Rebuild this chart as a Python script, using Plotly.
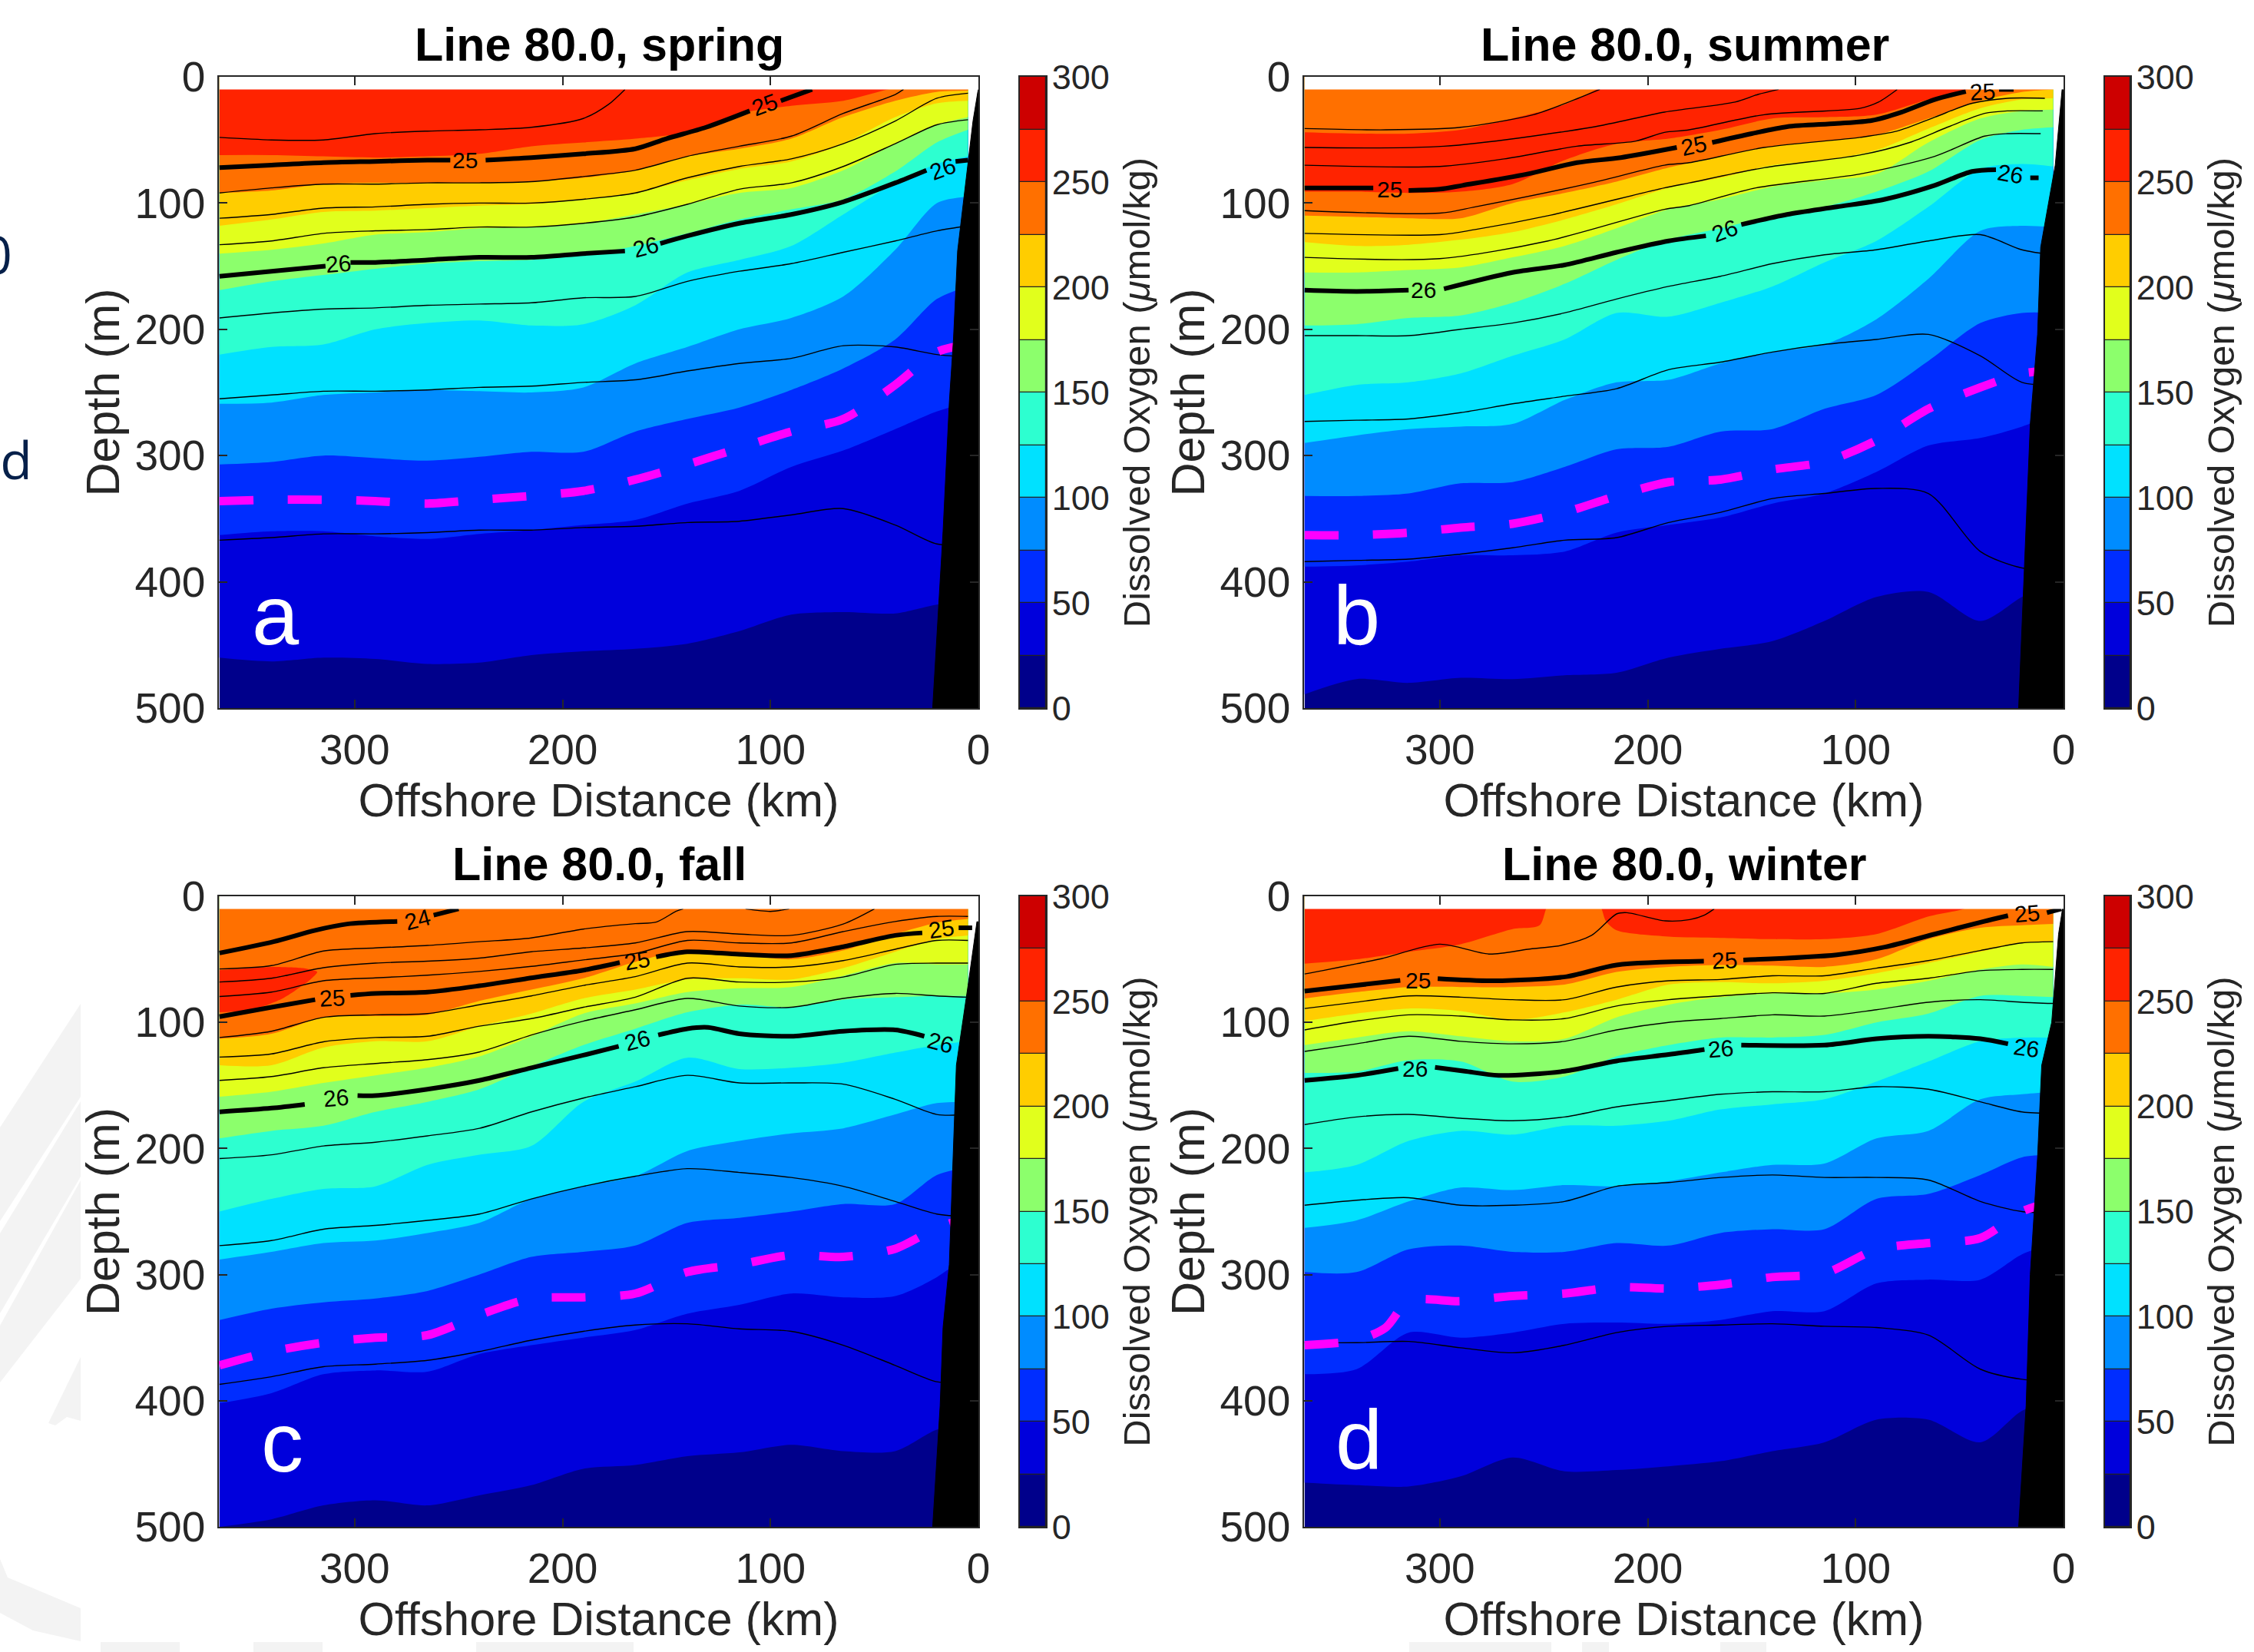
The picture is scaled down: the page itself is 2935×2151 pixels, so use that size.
import plotly.graph_objects as go

W, H = 2935, 2151

# ---- common station positions (km offshore) ----
km = [365, 340, 315, 290, 265, 240, 215, 190, 165, 140, 115, 90, 65, 40, 20, 5]
o2_levels = [0, 25, 50, 75, 100, 125, 150, 175, 200, 225, 250, 275, 300]
o2_colors = ["#00008b", "#0000dc", "#002dff", "#008cff", "#00e1ff", "#2dffd0",
             "#8cff6c", "#e1ff1c", "#ffcd00", "#ff7000", "#ff2300", "#cd0000"]
x_ticks = [300, 200, 100, 0]
y_ticks = [0, 100, 200, 300, 400, 500]
cb_ticks = [0, 50, 100, 150, 200, 250, 300]
titles = ["Line 80.0, spring", "Line 80.0, summer", "Line 80.0, fall", "Line 80.0, winter"]
letters = ["a", "b", "c", "d"]

# ---- SPRING: oxygen contour depths (m) ----
a_o2_25 = [460, 463, 460, 461, 465, 464, 458, 455, 453, 449, 439, 426, 424, 425, 418, 416]
a_o2_50 = [363, 360, 360, 364, 366, 362, 359, 355, 351, 338, 328, 309, 296, 279, 265, 258]
a_o2_75 = [307, 305, 300, 302, 304, 301, 297, 297, 281, 271, 262, 248, 231, 208, 176, 166]
a_o2_100 = [259, 258, 252, 250, 248, 249, 250, 246, 227, 214, 200, 191, 174, 137, 100, 95]
a_o2_125 = [220, 214, 212, 200, 195, 193, 197, 196, 181, 155, 145, 134, 109, 84, 69, 63]
a_o2_150 = [169, 162, 157, 152, 148, 146, 145, 141, 134, 124, 113, 105, 97, 75, 52, 42]
a_o2_175 = [140, 137, 132, 125, 123, 120, 119, 116, 109, 101, 92, 88, 74, 53, 38, 32]
a_o2_200 = [118, 113, 107, 106, 104, 102, 101, 97, 92, 82, 73, 67, 53, 32, 21, 19]
a_o2_225 = [92, 90, 85, 84, 84, 84, 83, 80, 74, 63, 57, 49, 32, 19, 12, 11]
a_o2_250 = [62, 62, 63, 64, 63, 61, 55, 52, 49, 44, 29, 23, 19, 9, 8, 8]

# SPRING: density contours
a_t1_x = [365, 340, 315, 290, 265, 240, 215, 190, 178, 170]
a_t1_y = [48, 50, 50, 45, 43, 42, 40, 33, 22, 10]
a_t2_x = [365, 340, 315, 290, 265, 240, 215, 190, 165, 140, 115, 90, 65, 40, 36]
a_t2_y = [92, 88, 85, 85, 84, 84, 83, 79, 74, 63, 55, 47, 29, 14, 10]
a_t3 = [112, 109, 104, 103, 101, 100, 100, 97, 92, 80, 71, 65, 53, 35, 17, 13]
a_t4 = [133, 130, 124, 122, 121, 119, 119, 116, 111, 101, 89, 84, 71, 53, 38, 34]
a_t5 = [191, 187, 184, 183, 181, 180, 179, 175, 174, 162, 154, 148, 139, 130, 122, 118]
a_t6 = [255, 252, 249, 249, 248, 246, 245, 242, 240, 233, 227, 223, 213, 214, 220, 222]
a_t7 = [367, 365, 362, 362, 361, 359, 359, 357, 356, 353, 352, 347, 342, 355, 370, 370]
a_s25_x = [365, 340, 315, 290, 265, 254, None, 237, 215, 190, 165, 150, 131, 110, None, 95, 80]
a_s25_y = [72, 70, 68, 67, 66, 66, None, 66, 64, 61, 57, 49, 40, 27, None, 19, 10]
a_s26_x = [365, 340, 314, None, 302, 290, 265, 240, 215, 190, 170, None, 153, 140, 115, 90, 65, 40, 25, None, 11, 5]
a_s26_y = [158, 154, 150, None, 147, 147, 145, 143, 143, 140, 138, None, 132, 126, 116, 109, 99, 84, 74, None, 67, 66]
a_dash = [336, 335, 335, 336, 338, 335, 332, 328, 319, 307, 294, 281, 271, 244, 218, 212]
a_coast_x = [0, 0.3, 2.6, 6, 10, 12, 14, 17, 22]
a_coast_y = [10, 12, 35, 81, 138, 208, 258, 360, 500]
a_lab_x = [247, 103, 308, 160, 17]
a_lab_y = [66, 22, 148, 134.5, 72.7]
a_lab_t = ["25", "25", "26", "26", "26"]
a_lab_a = [0, -20, -5, -15, -20]

# ---- SUMMER ----
b_o2_25 = [489, 477, 480, 476, 477, 474, 472, 460, 453, 447, 431, 412, 408, 431, 412, 401]
b_o2_50 = [388, 387, 384, 379, 379, 376, 361, 355, 349, 338, 330, 313, 292, 286, 277, 267]
b_o2_75 = [332, 332, 330, 322, 321, 309, 295, 293, 281, 279, 263, 252, 225, 195, 187, 187]
b_o2_100 = [290, 284, 279, 277, 275, 256, 242, 240, 227, 218, 212, 192, 160, 122, 118, 119]
b_o2_125 = [252, 244, 242, 235, 221, 208, 187, 190, 179, 166, 147, 130, 103, 73, 69, 71]
b_o2_150 = [197, 196, 191, 189, 179, 164, 145, 129, 120, 110, 103, 91, 75, 50, 42, 40]
b_o2_175 = [155, 155, 153, 151, 143, 134, 120, 105, 97, 87, 82, 77, 52, 33, 27, 26]
b_o2_200 = [131, 134, 133, 129, 123, 113, 101, 88, 80, 70, 66, 58, 41, 25, 18, 17]
b_o2_225 = [110, 111, 112, 112, 100, 92, 83, 72, 63, 55, 51, 46, 33, 19, 12, 10]
b_o2_250 = [91, 91, 92, 91, 85, 66, 53, 49, 42, 33, 32, 30, 18, 8, 8, 8]
b_o2_250top = [44, 45, 45, 42, 33, 22, 4, 4, 4, 4, 4, 4, 4, 4, 4, 4]

b_t1_x = [365, 326, 290, 255, 238, 223]
b_t1_y = [41, 42, 40, 30, 20, 10]
b_t2_x = [365, 298, 227, 192, 158, 147, 137]
b_t2_y = [56, 55, 40, 28, 20, 14, 10]
b_t3_x = [365, 300, 269, 234, 206, 192, 180, 144, 98, 89, 80]
b_t3_y = [70, 71, 65, 55, 51, 44, 42, 30, 25, 20, 10]
b_t4_x = [365, 300, 283, 227, 192, 180, 144, 98, 80, 62, 44, 27, 9]
b_t4_y = [106, 108, 103, 84, 70, 68, 56, 48, 43, 32, 21, 17, 17]
b_t5_x = [365, 300, 283, 248, 192, 180, 144, 98, 74, 56, 38, 27, 10]
b_t5_y = [124, 125, 121, 110, 88, 84, 72, 62, 52, 40, 29, 27, 27]
b_t6_x = [365, 300, 248, 192, 180, 148, 98, 62, 38, 27, 11]
b_t6_y = [143, 144, 130, 105, 102, 88, 77, 63, 47, 45, 45]
b_t7 = [205, 205, 205, 200, 195, 187, 176, 166, 158, 148, 141, 137, 130, 125, 137, 141]
b_t8 = [273, 272, 271, 266, 259, 253, 247, 232, 226, 218, 212, 208, 204, 221, 242, 244]
b_t9 = [384, 383, 382, 378, 373, 367, 365, 353, 345, 334, 330, 326, 330, 376, 389, 390]
b_s25_x = [365, 340, 332, None, 315, 300, 289, 258, 234, 213, 186, None, 169, 150, 133, 109, 92, 78, 62, 47, None, 31, 24]
b_s25_y = [88, 88, 88, None, 90, 89, 86, 77, 68, 64, 56, None, 52, 45, 39.5, 37, 34.5, 28, 18, 11.6, None, 10, 10]
b_s26_x = [365, 340, 315, None, 298, 265, 240, 215, 190, 172, None, 155, 133, 109, 86, 62, 44, 32.5, None, 16, 12]
b_s26_y = [169, 170, 169, None, 168, 155, 149, 139, 130, 126, None, 117, 109, 103, 97, 86, 75, 73.6, None, 80, 80]
b_dash = [363, 363, 361, 357, 354, 345, 332, 321, 319, 311, 305, 288, 263, 246, 235, 233]
b_coast_x = [0.7, 4, 11, 12.5, 16, 19, 21.6]
b_coast_y = [10, 70, 135, 204, 275, 400, 500]
b_lab_x = [324, 178, 39, 308, 163, 25.5]
b_lab_y = [89, 54.7, 11.6, 169, 121.7, 77]
b_lab_t = ["25", "25", "25", "26", "26", "26"]
b_lab_a = [0, -12, -3, 0, -20, 10]

# ---- FALL ----
c_o2_25 = [500, 494, 483, 479, 483, 475, 467, 454, 451, 444, 441, 435, 440, 440, 423, 419]
c_o2_50 = [402, 394, 379, 376, 377, 363, 356, 350, 344, 331, 324, 315, 318, 317, 302, 284]
c_o2_75 = [336, 327, 322, 319, 313, 300, 286, 282, 277, 259, 255, 250, 244, 244, 221, 215]
c_o2_100 = [288, 282, 275, 273, 267, 259, 240, 230, 222, 202, 194, 188, 184, 173, 164, 163]
c_o2_125 = [250, 240, 232, 230, 213, 205, 198, 163, 147, 128, 137, 136, 132, 124, 118, 115]
c_o2_150 = [192, 186, 182, 171, 163, 153, 135, 118, 105, 92, 86, 88, 82, 80, 79, 79]
c_o2_175 = [159, 155, 148, 142, 136, 127, 111, 93, 85, 76, 73, 72, 63, 53, 54, 54]
c_o2_200 = [134, 134, 120, 115, 115, 103, 93, 81, 74, 66, 65, 66, 57, 44, 34, 31]
c_o2_225 = [113, 109, 96, 95, 94, 83, 74, 65, 52, 43, 46, 50, 43, 30, 21, 18]
c_red_x = [365, 339, 325, 318, 322, 334.6, 349, 365]
c_red_y = [58.6, 56, 57, 60, 67, 81, 90, 92]

c_t1_x = [365, 340, 315, 290, 265, 240, 215, 190, 165, 155, 145.5, 142]
c_t1_y = [57.6, 55, 43.4, 41, 39, 36, 33, 26, 21.7, 20.5, 12, 10]
c_t1b_x = [112, 100, 91]
c_t1b_y = [10, 12, 10]
c_t2_x = [365, 340, 315, 290, 265, 240, 215, 190, 165, 140, 115, 90, 65, 50]
c_t2_y = [68, 65, 56.6, 53, 51.5, 49, 44, 41, 37, 28, 30, 31, 22, 10]
c_t3 = [79.5, 76, 67, 64.7, 62.6, 59.6, 55.6, 50.5, 45.4, 35, 37, 37, 28, 20, 16, 16]
c_t4 = [112, 107, 96, 94, 93, 86, 79, 70.7, 63.7, 53, 56, 56, 51, 42, 35, 35]
c_t5 = [127.5, 125, 115.4, 112, 111, 103, 97, 88, 80, 65, 68, 68, 64, 54, 53, 53]
c_t6 = [146, 143, 136, 132.6, 129.6, 123.5, 110, 99, 90, 81, 87, 88, 81, 77, 79, 80]
c_t7 = [208, 205, 198, 195, 190, 184, 171, 160, 151, 142, 148, 148, 149, 161, 173, 173]
c_t8 = [277, 273, 264, 261, 257, 252, 240, 230, 222, 216, 219, 223, 230, 242, 252, 254]
c_t9 = [387, 381, 373, 371, 368, 361, 352, 345, 340, 339, 343, 345, 356, 372, 385, 386]
c_s24_x = [365, 339, 319, 303.6, 279.5, None, 262, 250]
c_s24_y = [45, 36, 27, 22, 20, None, 15, 10]
c_s25_x = [365, 340, 319, None, 302, 290, 265, 240, 215, 190, 172.5, None, 155, 140, 115, 90, 65, 40, 27, None, 9.5, 3]
c_s25_y = [95.5, 88, 82, None, 78.5, 77, 76, 71, 64.7, 58.6, 52.5, None, 48, 44, 46, 47, 40, 31, 29, None, 25, 25]
c_s26_x = [365, 340, 324, None, 298.6, 290, 265, 240, 215, 190, 173, None, 154, 140, 130, 115, 90, 65, 40, 26]
c_s26_y = [171, 168, 165, None, 158, 158, 153, 146, 136, 126, 119, None, 110, 105, 104, 109, 111, 107, 106, 111]
c_dash = [372, 361, 354, 350, 348, 332, 319, 318, 315, 298, 292, 284.5, 286, 279.5, 263, 255]
c_coast_x = [0.7, 5, 10.6, 12, 14, 17, 18.4, 22]
c_coast_y = [20, 71, 134, 196, 292, 342, 404, 500]
c_lab_x = [270, 311, 164, 18, 309, 164, 18.4]
c_lab_y = [18.5, 80.6, 51, 25.8, 160, 114, 116]
c_lab_t = ["24", "25", "25", "25", "26", "26", "26"]
c_lab_a = [-15, -3, -10, -8, -5, -15, 15]

# ---- WINTER ----
d_o2_25 = [465, 467, 468, 460, 445, 456, 455, 452, 448, 440, 433, 415, 415, 433, 408, 400]
d_o2_50 = [379, 375, 346, 350, 346, 339, 338, 339, 336, 329, 329, 307, 304, 304, 284, 275]
d_o2_75 = [298, 298, 280, 277, 282, 282, 275, 277, 267, 264, 264, 240, 236, 221, 207, 205]
d_o2_100 = [263, 257, 242, 231, 233, 229, 230, 226, 219, 213, 212, 192, 186, 161, 157, 155]
d_o2_125 = [219, 213, 194, 186, 189, 182, 182, 178, 169, 165, 161, 147, 131, 115, 112, 112]
d_o2_150 = [140, 139, 130, 131, 147, 143, 127, 118, 112, 112, 110, 100, 93, 79, 79, 80]
d_o2_175 = [118, 112, 107, 111, 115, 113, 96, 86, 80, 77, 77, 74, 67, 58, 54, 56]
d_o2_200 = [99, 93, 89, 91, 98, 92, 82, 70, 68, 69, 67, 61, 53, 44, 37, 36]
d_o2_225 = [81, 76, 72, 72, 72, 70, 60, 56, 54.5, 55, 56, 50, 34, 25, 23, 22]
d_o2_250_x = [365, 340, 315, 290, 265, 252, 247, 224, 220, 215, 190, 165, 140, 115, 90, 65, 48, 40, 5]
d_o2_250_y = [53.5, 50, 44, 38, 26, 23, 5, 5, 20, 27, 32, 33, 34, 34, 30, 16, 10, 4, 4]

d_t1_x = [365, 356.5, 340, 328, 300, 276.4, 257.6, 241, 227, 215, 210, 191.6, 179.8, 172.8, 168]
d_t1_y = [61.6, 59, 53.5, 49.5, 38, 45.8, 42, 38.7, 31, 14, 13, 19.5, 18.5, 15, 10]
d_t2 = [89, 84, 79, 80, 82, 82, 72, 67, 66, 63, 63, 57, 51, 43, 37, 36]
d_t3 = [106, 99, 94, 95, 98, 97, 87, 82, 79, 76.5, 77, 69, 65, 59, 58, 58]
d_t4 = [123, 117, 111, 115, 117, 115, 106, 100, 97, 94, 95, 90, 84, 82, 84, 85]
d_t5 = [181, 175, 173, 176, 178, 175, 167, 162, 157, 155, 155, 151, 153, 163, 171, 172]
d_t6 = [245, 241, 239, 245, 245, 242, 230, 227, 223, 221, 223, 223, 225, 242, 250, 251]
d_t7 = [354, 354, 353, 358, 362, 356, 346, 341, 340, 339, 341, 342, 348, 375, 383, 384]
d_s25_x = [365, 319, None, 301, 274, 239, 215, 173, None, 154, 109, 86, 62, 38.5, 26.7, None, 8, 1]
d_s25_y = [75.2, 66.7, None, 65.3, 67, 63.7, 54.5, 51.5, None, 50.5, 46.4, 40.3, 30, 20, 15.4, None, 13, 10]
d_s26_x = [365, 340, 320, None, 302.3, 288, 271.7, 240, 215, 190, 172.7, None, 155, 115, 90, 65, 40, 26.7]
d_s26_y = [146, 142, 136.6, None, 135.6, 138.7, 142, 138.7, 130.6, 125.5, 121.5, None, 118, 118, 113, 111, 113, 117]
d_dash_x = [365, 340, 326, 315, 290, 265, 240, 215, 190, 165, 140, 115, 90, 65, 40, 20, 5]
d_dash_y = [356, 352, 342, 321, 321, 317, 315, 310, 311, 308, 302, 299, 280, 275, 271, 250, 242]
d_coast_x = [0.5, 2.4, 5.7, 10.5, 12.5, 16, 18, 21.6]
d_coast_y = [10, 30, 100, 134, 207, 300, 404, 500]
d_lab_x = [310.6, 163, 17.7, 311.8, 165, 18]
d_lab_y = [66.7, 51, 14, 137, 121, 120]
d_lab_t = ["25", "25", "25", "26", "26", "26"]
d_lab_a = [0, -3, -5, 0, -5, 8]

# ---- assemble panels from the named arrays ----
panels = [
    dict(px=(285, 1274, 100, 922), cbx=(1328, 1362), lpos=(338, 426),
         bands=[(km, a_o2_25, 1), (km, a_o2_50, 2), (km, a_o2_75, 3), (km, a_o2_100, 4), (km, a_o2_125, 5),
                (km, a_o2_150, 6), (km, a_o2_175, 7), (km, a_o2_200, 8), (km, a_o2_225, 9), (km, a_o2_250, 10)],
         patches=[],
         thin=[(a_t1_x, a_t1_y), (a_t2_x, a_t2_y), (km, a_t3), (km, a_t4), (km, a_t5), (km, a_t6), (km, a_t7)],
         thick=[(a_s25_x, a_s25_y), (a_s26_x, a_s26_y)],
         dash=(km, a_dash), coast=(a_coast_x, a_coast_y),
         labs=(a_lab_x, a_lab_y, a_lab_t, a_lab_a)),
    dict(px=(1698, 2687, 100, 922), cbx=(2741, 2774), lpos=(340, 426),
         bands=[(km, b_o2_25, 1), (km, b_o2_50, 2), (km, b_o2_75, 3), (km, b_o2_100, 4), (km, b_o2_125, 5),
                (km, b_o2_150, 6), (km, b_o2_175, 7), (km, b_o2_200, 8), (km, b_o2_225, 9), (km, b_o2_250, 10),
                (km, b_o2_250top, 9)],
         patches=[],
         thin=[(b_t1_x, b_t1_y), (b_t2_x, b_t2_y), (b_t3_x, b_t3_y), (b_t4_x, b_t4_y), (b_t5_x, b_t5_y),
               (b_t6_x, b_t6_y), (km, b_t7), (km, b_t8), (km, b_t9)],
         thick=[(b_s25_x, b_s25_y), (b_s26_x, b_s26_y)],
         dash=(km, b_dash), coast=(b_coast_x, b_coast_y),
         labs=(b_lab_x, b_lab_y, b_lab_t, b_lab_a)),
    dict(px=(285, 1274, 1167, 1988), cbx=(1328, 1362), lpos=(335, 433),
         bands=[(km, c_o2_25, 1), (km, c_o2_50, 2), (km, c_o2_75, 3), (km, c_o2_100, 4), (km, c_o2_125, 5),
                (km, c_o2_150, 6), (km, c_o2_175, 7), (km, c_o2_200, 8), (km, c_o2_225, 9)],
         patches=[(c_red_x, c_red_y, 10)],
         thin=[(c_t1_x, c_t1_y), (c_t1b_x, c_t1b_y), (c_t2_x, c_t2_y), (km, c_t3), (km, c_t4), (km, c_t5),
               (km, c_t6), (km, c_t7), (km, c_t8), (km, c_t9)],
         thick=[(c_s24_x, c_s24_y), (c_s25_x, c_s25_y), (c_s26_x, c_s26_y)],
         dash=(km, c_dash), coast=(c_coast_x, c_coast_y),
         labs=(c_lab_x, c_lab_y, c_lab_t, c_lab_a)),
    dict(px=(1698, 2687, 1167, 1988), cbx=(2741, 2774), lpos=(339, 430),
         bands=[(km, d_o2_25, 1), (km, d_o2_50, 2), (km, d_o2_75, 3), (km, d_o2_100, 4), (km, d_o2_125, 5),
                (km, d_o2_150, 6), (km, d_o2_175, 7), (km, d_o2_200, 8), (km, d_o2_225, 9),
                (d_o2_250_x, d_o2_250_y, 10)],
         patches=[],
         thin=[(d_t1_x, d_t1_y), (km, d_t2), (km, d_t3), (km, d_t4), (km, d_t5), (km, d_t6), (km, d_t7)],
         thick=[(d_s25_x, d_s25_y), (d_s26_x, d_s26_y)],
         dash=(d_dash_x, d_dash_y), coast=(d_coast_x, d_coast_y),
         labs=(d_lab_x, d_lab_y, d_lab_t, d_lab_a)),
]

FONT = "Liberation Sans"
INK = "#262626"
x_range = [365.3, 0]
fig = go.Figure()
annotations = []
layout_axes = {}


def fx(p):
    return p / W


def fy(p):
    return 1 - p / H


for i, p in enumerate(panels):
    n = 2 * i + 1
    xa, ya = f"x{n}", f"y{n}"
    xc, yc = f"x{n + 1}", f"y{n + 1}"
    x0, x1, y0, y1 = p["px"]
    common = dict(showline=True, linecolor=INK, linewidth=1.5, mirror="allticks", ticks="inside",
                  ticklen=11, tickwidth=1.5, tickcolor=INK, showgrid=False, zeroline=False, automargin=False,
                  ticklabelstandoff=5, tickfont=dict(family=FONT, size=55, color=INK))
    layout_axes[f"xaxis{n}"] = dict(common, domain=[fx(x0), fx(x1)], range=x_range, anchor=ya,
                                    tickvals=x_ticks, ticktext=[str(v) for v in x_ticks],
                                    title=dict(text="Offshore Distance (km)", standoff=15,
                                               font=dict(family=FONT, size=61, color=INK)))
    layout_axes[f"yaxis{n}"] = dict(common, domain=[fy(y1), fy(y0)], range=[500, 0], anchor=xa,
                                    tickvals=y_ticks, ticktext=[str(v) for v in y_ticks],
                                    title=dict(text="Depth (m)", standoff=0,
                                               font=dict(family=FONT, size=61, color=INK)))

    def line(x, y, **kw):
        fig.add_trace(go.Scatter(x=x, y=y, xaxis=xa, yaxis=ya, mode="lines", showlegend=False,
                                 hoverinfo="skip", **kw))

    # navy base, then each oxygen contour upward, painted to the surface
    line(km, [500] * len(km), line=dict(width=0), fill="tozeroy", fillcolor=o2_colors[0])
    for bx, by, c in p["bands"]:
        line(bx, by, line=dict(width=0, shape="spline", smoothing=0.8), fill="tozeroy", fillcolor=o2_colors[c])
    for bx, by, c in p["patches"]:
        line(bx, by, line=dict(width=0, shape="spline", smoothing=0.6), fill="toself", fillcolor=o2_colors[c])
    for tx, ty in p["thin"]:
        line(tx, ty, line=dict(color="#000000", width=1.4, shape="spline", smoothing=0.8))
    for tx, ty in p["thick"]:
        line(tx, ty, line=dict(color="#000000", width=6, shape="spline", smoothing=0.8), connectgaps=False)
    dx, dy = p["dash"]
    line(dx, dy, line=dict(color="#ff00ff", width=11, dash="44px,45px", shape="spline", smoothing=0.8))
    # white unsampled surface layer and black shelf
    line(km + [0], [10] * (len(km) + 1), line=dict(width=0), fill="tozeroy", fillcolor="#ffffff")
    cx, cy = p["coast"]
    line(cx, cy, line=dict(color="#000000", width=1), fill="tozerox", fillcolor="#000000")

    lx, ly, lt, la = p["labs"]
    for ax_, ay_, t_, a_ in zip(lx, ly, lt, la):
        annotations.append(dict(x=ax_, y=ay_, xref=xa, yref=ya, text=t_, textangle=a_, showarrow=False,
                                font=dict(family=FONT, size=30, color="#000000")))
    annotations.append(dict(x=p["lpos"][0], y=p["lpos"][1], xref=xa, yref=ya, text=letters[i], showarrow=False,
                            font=dict(family=FONT, size=110, color="#ffffff")))
    annotations.append(dict(x=(fx(x0) + fx(x1)) / 2 + 0.0005, y=fy(y0 - 42), xref="paper", yref="paper",
                            text="<b>" + titles[i] + "</b>", xanchor="center", yanchor="middle",
                            showarrow=False, font=dict(family=FONT, size=61, color="#000000")))

    # colour bar, one stacked bar per oxygen class
    cx0, cx1 = p["cbx"]
    for k, col in enumerate(o2_colors):
        fig.add_trace(go.Bar(x=[0.5], y=[o2_levels[k + 1] - o2_levels[k]], base=[o2_levels[k]], width=[1],
                             marker=dict(color=col, line=dict(color="#222222", width=1.2)),
                             xaxis=xc, yaxis=yc, showlegend=False, hoverinfo="skip"))
    layout_axes[f"xaxis{n + 1}"] = dict(domain=[fx(cx0), fx(cx1)], range=[0, 1], anchor=yc, showticklabels=False,
                                        ticks="", showgrid=False, zeroline=False, showline=True, linecolor=INK,
                                        linewidth=1.5, mirror=True, automargin=False)
    layout_axes[f"yaxis{n + 1}"] = dict(domain=[fy(y1), fy(y0)], range=[0, 300], anchor=xc, side="right",
                                        tickvals=cb_ticks, ticktext=[str(v) for v in cb_ticks], ticks="",
                                        showgrid=False, zeroline=False, showline=True, linecolor=INK, linewidth=1.5,
                                        mirror=True, automargin=False, ticklabelstandoff=-3,
                                        tickfont=dict(family=FONT, size=45, color=INK),
                                        title=dict(text="Dissolved Oxygen (<i>μ</i>mol/kg)", standoff=19,
                                                   font=dict(family=FONT, size=49, color=INK)))

# cropped text of the surrounding page at the left edge
annotations.append(dict(x=fx(18), y=fy(331), xref="paper", yref="paper", text="0", showarrow=False, xanchor="right",
                        yanchor="middle", font=dict(family="Open Sans", size=68, color="#06204a")))
annotations.append(dict(x=fx(44), y=fy(597), xref="paper", yref="paper", text="ed", showarrow=False, xanchor="right",
                        yanchor="middle", font=dict(family="Open Sans", size=68, color="#06204a")))


def poly(pts):
    d = "M " + " L ".join(f"{fx(a):.5f},{fy(b):.5f}" for a, b in pts) + " Z"
    return dict(type="path", path=d, xref="paper", yref="paper", fillcolor="#f3f3f3",
                line=dict(width=0), layer="below")


def strip(a, b):
    return [(a, 2138), (b, 2138), (b, 2151), (a, 2151)]


wm = [
    [(0, 1468), (105, 1307), (105, 1428), (0, 1590)],
    [(0, 1606), (105, 1434), (105, 1532), (0, 1710)],
    [(0, 1726), (105, 1537), (105, 1665), (0, 1800)],
    [(63, 1853), (105, 1767), (105, 1850), (87, 1845), (72, 1856)],
    [(0, 2030), (10, 2054), (105, 2094), (105, 2137), (43, 2123), (0, 2100)],
    strip(131, 234), strip(330, 420), strip(620, 825), strip(1835, 2020), strip(2060, 2095), strip(2240, 2300),
]
shapes = [poly(w) for w in wm]

fig.update_layout(width=W, height=H, margin=dict(l=0, r=0, t=0, b=0), paper_bgcolor="#ffffff", plot_bgcolor="#ffffff",
                  barmode="overlay", bargap=0, annotations=annotations, shapes=shapes,
                  font=dict(family=FONT), **layout_axes)
fig.write_html("out.html", config={"displayModeBar": False},
               post_script="document.body.style.margin='0';document.body.style.overflow='hidden';")
